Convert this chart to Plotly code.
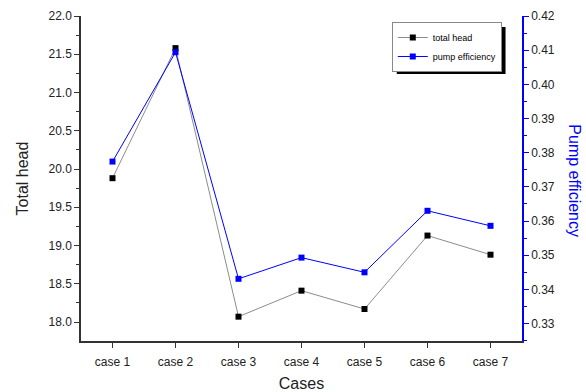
import plotly.graph_objects as go

cases = ["case 1", "case 2", "case 3", "case 4", "case 5", "case 6", "case 7"]
total_head = [19.88, 21.58, 18.07, 18.41, 18.17, 19.13, 18.88]
pump_efficiency = [0.3774, 0.4094, 0.3431, 0.3493, 0.3450, 0.3630, 0.3586]

FONT = "Liberation Sans, Arial, sans-serif"

fig = go.Figure()
fig.add_trace(go.Scatter(
    x=cases, y=total_head, name="total head", mode="lines+markers",
    line=dict(color="#8c8c8c", width=1),
    marker=dict(symbol="square", size=6, color="black"),
))
fig.add_trace(go.Scatter(
    x=cases, y=pump_efficiency, name="pump efficiency", mode="lines+markers",
    yaxis="y2",
    line=dict(color="#0000ff", width=1),
    marker=dict(symbol="square", size=6, color="#0000ff"),
))

L, R, T, B = 80.5, 63.5, 16, 50.5
W, H = 586, 392
pw, ph = W - L - R, H - T - B

def px_x(x):
    return (x - L) / pw

def px_y(y):
    return (H - B - y) / ph

LEG_X0, LEG_Y0 = 392, 22

fig.update_layout(
    width=W, height=H,
    margin=dict(l=L, r=R, t=T, b=B, pad=0, autoexpand=False),
    paper_bgcolor="white", plot_bgcolor="white",
    font=dict(family=FONT, size=12, color="#222222"),
    showlegend=True,
    legend=dict(
        x=px_x(LEG_X0), y=px_y(LEG_Y0), xanchor="left", yanchor="top",
        bgcolor="white", bordercolor="#888888", borderwidth=1,
        font=dict(size=9, family=FONT, color="black"),
        tracegroupgap=0, itemwidth=30,
    ),
    xaxis=dict(
        type="category", range=[-0.5, 6.5], automargin=False,
        showgrid=False, zeroline=False,
        showline=True, linecolor="#333333", linewidth=1.5,
        ticks="outside", ticklen=5, tickcolor="#333333", tickwidth=1.2,
        ticklabelstandoff=4,
        tickfont=dict(size=12, family=FONT, color="#222222"),
        title=dict(text="Cases", font=dict(size=16, family=FONT, color="#222222"), standoff=14),
    ),
    yaxis=dict(
        range=[17.752, 22.0], automargin=False,
        tickvals=[18.0, 18.5, 19.0, 19.5, 20.0, 20.5, 21.0, 21.5, 22.0],
        tickformat=".1f",
        showgrid=False, zeroline=False,
        showline=True, linecolor="#333333", linewidth=1.5,
        ticks="outside", ticklen=5, tickcolor="#333333", tickwidth=1.2,
        minor=dict(ticks="outside", ticklen=3, tickcolor="#333333", dtick=0.25, showgrid=False),
        tickfont=dict(size=12, family=FONT, color="#222222"),
        title=dict(text="Total head", font=dict(size=16, family=FONT, color="#222222"), standoff=16),
    ),
    yaxis2=dict(
        overlaying="y", side="right", anchor="x", automargin=False,
        range=[0.3249, 0.42],
        tickvals=[0.33, 0.34, 0.35, 0.36, 0.37, 0.38, 0.39, 0.40, 0.41, 0.42],
        tickformat=".2f",
        showgrid=False, zeroline=False,
        showline=True, linecolor="#0000ff", linewidth=1.5,
        ticks="outside", ticklen=5, tickcolor="#0000ff", tickwidth=1.2,
        minor=dict(ticks="outside", ticklen=3, tickcolor="#0000ff", dtick=0.005, showgrid=False),
        tickfont=dict(size=12, family=FONT, color="#222222"),
    ),
)

fig.add_annotation(
    text="Pump efficiency", textangle=90, xref="paper", yref="paper",
    x=px_x(575), y=px_y(181), xanchor="center", yanchor="middle",
    showarrow=False, font=dict(size=16, family=FONT, color="#0000ff"),
)

# drop shadow behind the legend box
fig.add_shape(
    type="rect", xref="paper", yref="paper",
    x0=px_x(LEG_X0 + 5), x1=px_x(LEG_X0 + 114), y0=px_y(LEG_Y0 + 5), y1=px_y(LEG_Y0 + 52),
    fillcolor="black", line=dict(width=0), layer="above",
)

fig.write_html("out.html")
